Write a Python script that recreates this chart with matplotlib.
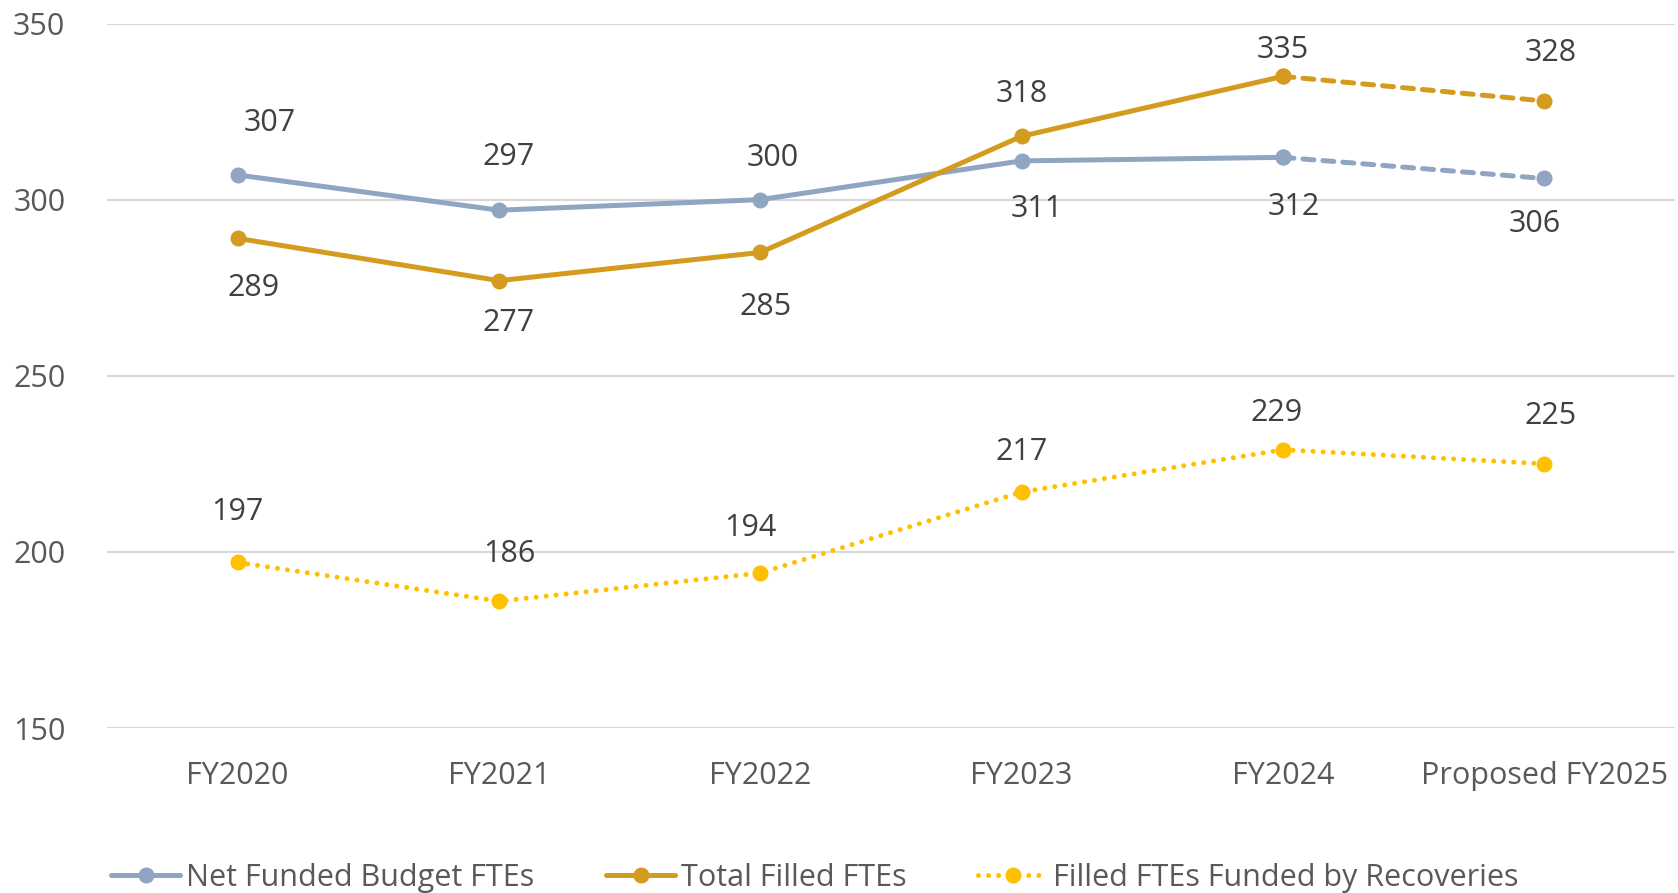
import matplotlib.pyplot as plt
import numpy as np

plt.rcParams['font.family'] = ['Open Sans', 'DejaVu Sans']

# chart data
categories = ['FY2020', 'FY2021', 'FY2022', 'FY2023', 'FY2024', 'Proposed FY2025']
net_funded = [307, 297, 300, 311, 312, 306]
total_filled = [289, 277, 285, 318, 335, 328]
recoveries = [197, 186, 194, 217, 229, 225]
y_ticks = [150, 200, 250, 300, 350]

# label offsets in pixels (dx, dy)
net_off = [(32, 52), (10, 53), (12, 42), (15, -48), (11, -50), (-10, -46)]
total_off = [(16, -50), (10, -42), (5, -55), (0, 42), (0, 26), (6, 48)]
rec_off = [(0, 50), (10, 47), (-10, 45), (0, 40), (-6, 37), (6, 48)]

BLUE = '#8FA5C2'
GOLD = '#D49C1E'
YELLOW = '#FFC000'

fig = plt.figure(figsize=(16.78, 8.93), dpi=100)
ax = fig.add_axes([107 / 1678, 1 - 728 / 893, 1568 / 1678, (728 - 23.5) / 893])

x = np.arange(len(categories))
lw = 3.6
ms = 10.5
fs = 22

def draw(values, color, label, dashed_last):
    v = np.array(values)
    if dashed_last:
        ax.plot(x[:-1], v[:-1], color=color, lw=lw, solid_capstyle='round',
                marker='o', ms=ms, label=label, zorder=3)
        ax.plot(x[-2:], v[-2:], color=color, lw=lw, ls=(0, (2.2, 1.8)),
                dash_capstyle='round', marker='o', ms=ms, zorder=3)
    else:
        ax.plot(x, v, color=color, lw=lw, ls=(0, (0.01, 2.0)),
                dash_capstyle='round', marker='o', ms=ms, label=label, zorder=3)

draw(net_funded, BLUE, 'Net Funded Budget FTEs', True)
draw(total_filled, GOLD, 'Total Filled FTEs', True)
draw(recoveries, YELLOW, 'Filled FTEs Funded by Recoveries', False)

for values, offs in [(net_funded, net_off), (total_filled, total_off), (recoveries, rec_off)]:
    for i, (val, (dx, dy)) in enumerate(zip(values, offs)):
        ax.annotate(str(val), (x[i], val), xytext=(dx * 0.72, dy * 0.72),
                    textcoords='offset points', ha='center', va='center',
                    fontsize=fs, color='#404040')

ax.set_xlim(-0.5, len(categories) - 0.5)
ax.set_ylim(150, 350)
ax.set_yticks(y_ticks)
ax.set_xticks(x)
ax.set_xticklabels(categories)
ax.grid(axis='y', color='#D9D9D9', lw=1.5)
ax.set_axisbelow(True)
for s in ax.spines.values():
    s.set_visible(False)
ax.tick_params(length=0, labelsize=fs, labelcolor='#595959')
ax.tick_params(axis='x', pad=24)
ax.tick_params(axis='y', pad=30)

fig.legend(loc='center', bbox_to_anchor=(815 / 1678, 1 - 878 / 893), ncol=3,
           frameon=False, fontsize=fs, handlelength=2.25, handletextpad=0.2,
           columnspacing=2.35, labelcolor='#595959')

fig.savefig('out.png', dpi=100)
